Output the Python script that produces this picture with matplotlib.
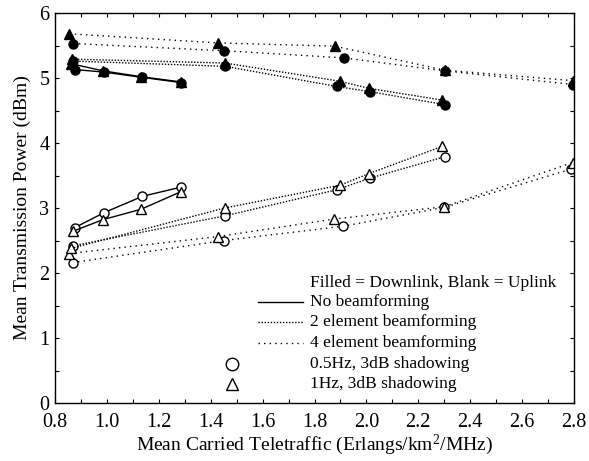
import matplotlib
matplotlib.use('Agg')
import matplotlib.pyplot as plt
from matplotlib.ticker import MultipleLocator
from matplotlib.lines import Line2D

plt.rcParams['font.family'] = ['Liberation Serif', 'DejaVu Serif']
plt.rcParams['mathtext.fontset'] = 'custom'
plt.rcParams['mathtext.rm'] = 'Liberation Serif'
plt.rcParams['mathtext.it'] = 'Liberation Serif:italic'

# ---- Downlink (filled markers) ----
nb_dl_c_x = [0.877, 0.990, 1.135, 1.285]
nb_dl_c_y = [5.13, 5.09, 5.01, 4.93]
nb_dl_t_x = [0.862, 0.985, 1.131, 1.285]
nb_dl_t_y = [5.22, 5.11, 5.02, 4.94]

b2_dl_c_x = [0.870, 1.456, 1.885, 2.013, 2.303]
b2_dl_c_y = [5.26, 5.18, 4.87, 4.79, 4.59]
b2_dl_t_x = [0.865, 1.456, 1.898, 2.010, 2.293]
b2_dl_t_y = [5.29, 5.23, 4.95, 4.84, 4.66]

b4_dl_c_x = [0.871, 1.450, 1.913, 2.302, 2.795]
b4_dl_c_y = [5.53, 5.42, 5.31, 5.11, 4.90]
b4_dl_t_x = [0.855, 1.427, 1.878, 2.302, 2.795]
b4_dl_t_y = [5.68, 5.54, 5.49, 5.12, 4.96]

# ---- Uplink (blank markers) ----
nb_ul_c_x = [0.877, 0.990, 1.137, 1.285]
nb_ul_c_y = [2.70, 2.93, 3.18, 3.32]
nb_ul_t_x = [0.868, 0.984, 1.131, 1.285]
nb_ul_t_y = [2.64, 2.82, 2.98, 3.25]

b2_ul_c_x = [0.871, 1.456, 1.885, 2.014, 2.303]
b2_ul_c_y = [2.42, 2.88, 3.28, 3.46, 3.79]
b2_ul_t_x = [0.862, 1.454, 1.898, 2.010, 2.293]
b2_ul_t_y = [2.38, 3.00, 3.35, 3.53, 3.95]

b4_ul_c_x = [0.868, 1.452, 1.911, 2.300, 2.790]
b4_ul_c_y = [2.16, 2.50, 2.72, 3.01, 3.60]
b4_ul_t_x = [0.855, 1.427, 1.875, 2.300, 2.795]
b4_ul_t_y = [2.30, 2.56, 2.83, 3.02, 3.70]

legend_texts = ["Filled = Downlink, Blank = Uplink", "No beamforming",
                "2 element beamforming", "4 element beamforming",
                "0.5Hz, 3dB shadowing", "1Hz, 3dB shadowing"]

fig = plt.figure(figsize=(5.89, 4.61), dpi=100)
ax = fig.add_axes([55/589, 1-403/461, (574-55)/589, (403-13)/461])

ls_nb = '-'
ls_b2 = (0, (1, 1.2))
ls_b4 = (0, (1, 3))
ms = 6.5
lw = 1.0

def draw(x, y, ls, marker, filled):
    ax.plot(x, y, linestyle=ls, color='black', lw=lw, marker=marker,
            markersize=ms if marker == 'o' else ms + 0.5,
            markerfacecolor='black' if filled else 'white',
            markeredgecolor='black', markeredgewidth=1.0)

draw(b4_dl_c_x, b4_dl_c_y, ls_b4, 'o', True)
draw(b4_dl_t_x, b4_dl_t_y, ls_b4, '^', True)
draw(b2_dl_c_x, b2_dl_c_y, ls_b2, 'o', True)
draw(b2_dl_t_x, b2_dl_t_y, ls_b2, '^', True)
draw(nb_dl_t_x, nb_dl_t_y, ls_nb, '^', True)
draw(nb_dl_c_x, nb_dl_c_y, ls_nb, 'o', True)

draw(b4_ul_c_x, b4_ul_c_y, ls_b4, 'o', False)
draw(b4_ul_t_x, b4_ul_t_y, ls_b4, '^', False)
draw(b2_ul_c_x, b2_ul_c_y, ls_b2, 'o', False)
draw(b2_ul_t_x, b2_ul_t_y, ls_b2, '^', False)
draw(nb_ul_c_x, nb_ul_c_y, ls_nb, 'o', False)
draw(nb_ul_t_x, nb_ul_t_y, ls_nb, '^', False)

ax.set_xlim(0.8, 2.8)
ax.set_ylim(0, 6)
ax.xaxis.set_major_locator(MultipleLocator(0.2))
ax.xaxis.set_minor_locator(MultipleLocator(0.1))
ax.yaxis.set_major_locator(MultipleLocator(1))
ax.yaxis.set_minor_locator(MultipleLocator(0.5))
ax.xaxis.set_major_formatter(matplotlib.ticker.FormatStrFormatter('%.1f'))
ax.tick_params(which='both', direction='in', top=True, right=True,
               length=3, width=0.8, labelsize=14.5)
ax.tick_params(axis='x', pad=7)
ax.tick_params(axis='y', pad=4)
for s in ax.spines.values():
    s.set_linewidth(1.0)

ax.set_xlabel(r'Mean Carried Teletraffic (Erlangs/km$^2$/MHz)', fontsize=14, labelpad=1)
ax.set_ylabel('Mean Transmission Power (dBm)', fontsize=14, labelpad=6)

# legend (manual, in axes coordinates)
def ax_px(px, py):
    return ((px - 55) / (574 - 55), (403 - py) / (403 - 13))

tx = 310
rows = [283, 302, 322, 343, 364, 384]
fs_leg = 12.5
for t, r in zip(legend_texts, rows):
    ax.text(*ax_px(tx, r), t, transform=ax.transAxes, fontsize=fs_leg,
            va='center', ha='left')
for ls, r in zip([ls_nb, ls_b2, ls_b4], rows[1:4]):
    x0, y0 = ax_px(258, r)
    x1, _ = ax_px(303, r)
    ax.add_line(Line2D([x0, x1], [y0, y0], transform=ax.transAxes,
                       color='black', lw=lw, linestyle=ls))
for mk, r in zip(['o', '^'], rows[4:6]):
    xm, ym = ax_px(232, r)
    ax.plot([xm], [ym], transform=ax.transAxes, marker=mk, markersize=9,
            markerfacecolor='white', markeredgecolor='black',
            markeredgewidth=1.0, linestyle='none')

fig.savefig('out.png', dpi=100)
